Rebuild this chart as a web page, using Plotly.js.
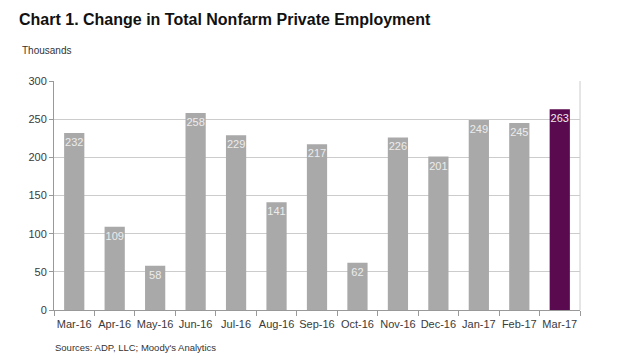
<!DOCTYPE html>
<html><head><meta charset="utf-8">
<script src="https://cdn.plot.ly/plotly-3.0.1.min.js"></script>
<style>html,body{margin:0;padding:0;background:#fff;}#chart{width:617px;height:362px;}</style>
</head><body><div id="chart"></div>
<script>
const categories = ["Mar-16","Apr-16","May-16","Jun-16","Jul-16","Aug-16","Sep-16","Oct-16","Nov-16","Dec-16","Jan-17","Feb-17","Mar-17"];
const values = [232,109,58,258,229,141,217,62,226,201,249,245,263];
const tickVals = [0,50,100,150,200,250,300];
const colors = categories.map((c,i)=> i===categories.length-1 ? "#5a0a4e" : "#a9a9a9");

const trace = {
  type:"bar", x:categories, y:values,
  marker:{color:colors, line:{width:0}},
  text:values.map(String), textposition:"inside", insidetextanchor:"end",
  textangle:0, constraintext:"none",
  textfont:{family:"Liberation Sans, Arial, sans-serif", size:11, color:"#ececec"},
  hoverinfo:"none", cliponaxis:false
};
const layout = {
  width:617, height:362,
  margin:{l:54, r:37, t:81, b:52},
  paper_bgcolor:"#fff", plot_bgcolor:"#fff",
  bargap:0.5, showlegend:false,
  font:{family:"Liberation Sans, Arial, sans-serif", size:11, color:"#333"},
  xaxis:{type:"category", tickson:"boundaries", ticks:"outside", ticklen:5, tickcolor:"#999",
    showline:true, linecolor:"#999", linewidth:1, showgrid:false, mirror:false, tickangle:0,
    ticklabelstandoff:4,
    tickfont:{size:11, color:"#3a3a3a"}, fixedrange:true},
  yaxis:{range:[0,300], tickvals:tickVals, ticks:"outside", ticklen:4, tickcolor:"#999",
    showline:true, linecolor:"#999", linewidth:1, gridcolor:"#cccccc", gridwidth:1,
    zeroline:false, tickfont:{size:11, color:"#3a3a3a"}, fixedrange:true},
  shapes:[{type:"line", xref:"paper", yref:"paper", x0:1, x1:1, y0:0, y1:1, line:{color:"#cccccc", width:1}}],
  annotations:[
    {text:"<b>Chart 1. Change in Total Nonfarm Private Employment</b>", xref:"paper", yref:"paper",
     x:(17-54)/526, y:1+ (81-20)/229, xanchor:"left", yanchor:"middle", showarrow:false,
     font:{size:16, color:"#111", family:"Liberation Sans, Arial, sans-serif"}},
    {text:"Thousands", xref:"paper", yref:"paper", x:(20-54)/526, y:1+(81-51)/229,
     xanchor:"left", yanchor:"middle", showarrow:false, font:{size:10, color:"#333"}},
    {text:"Sources: ADP, LLC; Moody's Analytics", xref:"paper", yref:"paper", x:(53-54)/526, y:-(347-310)/229,
     xanchor:"left", yanchor:"middle", showarrow:false, font:{size:9.5, color:"#333"}}
  ]
};
Plotly.newPlot("chart",[trace],layout,{displayModeBar:false, staticPlot:true});
</script></body></html>
